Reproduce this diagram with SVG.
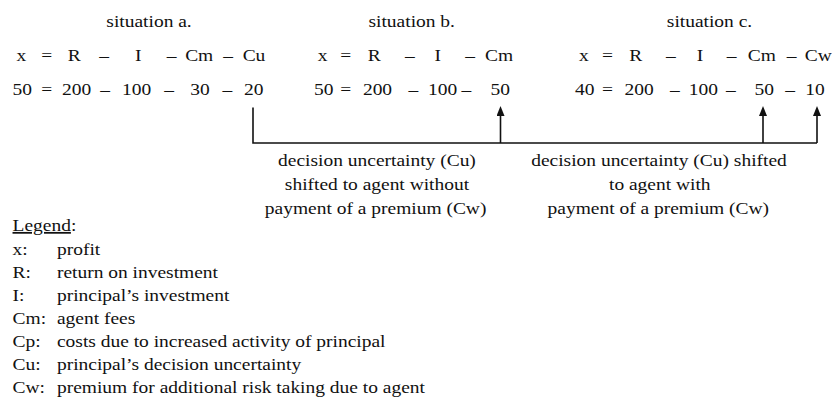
<svg xmlns="http://www.w3.org/2000/svg" width="832" height="401" viewBox="0 0 832 401" font-family="Liberation Serif, Times New Roman, serif">
<defs>
<style>
text{font-family:'Liberation Serif','Times New Roman',Times,serif;font-size:17.7px;fill:#111}
.m{text-anchor:middle}
.conn{stroke:#111;stroke-width:1.6;fill:none}
</style>
<marker id="ah" markerUnits="userSpaceOnUse" markerWidth="10" markerHeight="8" refX="4" refY="4" orient="auto" viewBox="0 0 10 8">
<path d="M0,0 L10,4 L0,8 z" fill="#111"/>
</marker>
</defs>
<rect width="832" height="401" fill="#fff"/>

<g id="situation-a" transform="scale(1.1,1)">
<text class="m" x="135.5" y="27">situation a.</text>
<text class="m" x="19.4" y="61">x</text><text class="m" x="42.5" y="61">=</text><text class="m" x="67.5" y="61">R</text><text class="m" x="94.7" y="61">–</text><text class="m" x="125.7" y="61">I</text><text class="m" x="156.1" y="61">–</text><text class="m" x="181.1" y="61">Cm</text><text class="m" x="207.3" y="61">–</text><text class="m" x="230.9" y="61">Cu</text>
<text class="m" x="20.2" y="95">50</text><text class="m" x="42.5" y="95">=</text><text class="m" x="69.7" y="95">200</text><text class="m" x="95.5" y="95">–</text><text class="m" x="124.3" y="95">100</text><text class="m" x="153.8" y="95">–</text><text class="m" x="181.8" y="95">30</text><text class="m" x="206.8" y="95">–</text><text class="m" x="230.7" y="95">20</text>
</g>

<g id="situation-b" transform="scale(1.1,1)">
<text class="m" x="374.3" y="27">situation b.</text>
<text class="m" x="293.2" y="61">x</text><text class="m" x="314.4" y="61">=</text><text class="m" x="340.2" y="61">R</text><text class="m" x="372.7" y="61">–</text><text class="m" x="398" y="61">I</text><text class="m" x="427.3" y="61">–</text><text class="m" x="453.8" y="61">Cm</text>
<text class="m" x="294.3" y="95">50</text><text class="m" x="314.4" y="95">=</text><text class="m" x="343.2" y="95">200</text><text class="m" x="375.7" y="95">–</text><text class="m" x="402.3" y="95">100</text><text class="m" x="424" y="95">–</text><text class="m" x="454.8" y="95">50</text>
</g>

<g id="situation-c" transform="scale(1.1,1)">
<text class="m" x="645" y="27">situation c.</text>
<text class="m" x="530.7" y="61">x</text><text class="m" x="552.3" y="61">=</text><text class="m" x="578" y="61">R</text><text class="m" x="609.8" y="61">–</text><text class="m" x="636.4" y="61">I</text><text class="m" x="665.2" y="61">–</text><text class="m" x="692.5" y="61">Cm</text><text class="m" x="719.7" y="61">–</text><text class="m" x="743.9" y="61">Cw</text>
<text class="m" x="531.5" y="95">40</text><text class="m" x="552.3" y="95">=</text><text class="m" x="581.1" y="95">200</text><text class="m" x="613.6" y="95">–</text><text class="m" x="639.4" y="95">100</text><text class="m" x="664.5" y="95">–</text><text class="m" x="694.7" y="95">50</text><text class="m" x="718.2" y="95">–</text><text class="m" x="740.9" y="95">10</text>
</g>

<g id="connectors">
<path class="conn" d="M253,107.5 V143 H817"/>
<line class="conn" x1="500.5" y1="143" x2="500.5" y2="112" marker-end="url(#ah)"/>
<line class="conn" x1="763" y1="143" x2="763" y2="112" marker-end="url(#ah)"/>
<line class="conn" x1="817" y1="143" x2="817" y2="112" marker-end="url(#ah)"/>
</g>

<g id="label-without-premium" transform="scale(1.1,1)">
<text class="m" x="342.7" y="166">decision uncertainty (Cu)</text>
<text class="m" x="342.7" y="190">shifted to agent without</text>
<text class="m" x="341.5" y="214">payment of a premium (Cw)</text>
</g>

<g id="label-with-premium" transform="scale(1.1,1)">
<text class="m" x="599.1" y="166">decision uncertainty (Cu) shifted</text>
<text class="m" x="599.8" y="190">to agent with</text>
<text class="m" x="598.5" y="214">payment of a premium (Cw)</text>
</g>

<g id="legend" transform="scale(1.1,1)">
<text x="11.4" y="231"><tspan text-decoration="underline">Legend</tspan>:</text>
<text x="11.4" y="255">x:</text><text x="51.8" y="255">profit</text>
<text x="11.4" y="278">R:</text><text x="51.8" y="278">return on investment</text>
<text x="11.4" y="301">I:</text><text x="51.8" y="301">principal’s investment</text>
<text x="11.4" y="324">Cm:</text><text x="51.8" y="324">agent fees</text>
<text x="11.4" y="347">Cp:</text><text x="51.8" y="347">costs due to increased activity of principal</text>
<text x="11.4" y="370">Cu:</text><text x="51.8" y="370">principal’s decision uncertainty</text>
<text x="11.4" y="393">Cw:</text><text x="51.8" y="393">premium for additional risk taking due to agent</text>
</g>
</svg>
